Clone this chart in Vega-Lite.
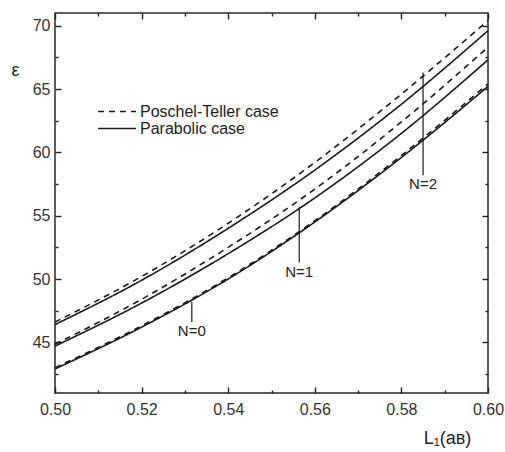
{
  "$schema": "https://vega.github.io/schema/vega-lite/v6.json",
  "width": 433,
  "height": 380,
  "autosize": {"type": "none"},
  "padding": {"left": 55, "top": 13, "right": 17, "bottom": 59},
  "background": "white",
  "config": {
    "view": {"stroke": "#2a2a2a", "strokeWidth": 1.5},
    "font": "Liberation Sans",
    "axis": {
      "labelFont": "Liberation Sans",
      "labelFontSize": 16,
      "labelColor": "#333333",
      "ticks": true,
      "tickColor": "#222222",
      "tickWidth": 1.4,
      "domain": false,
      "grid": false,
      "titleFont": "Liberation Sans",
      "titleFontWeight": "normal",
      "titleColor": "#222222",
      "labelFlush": false,
      "labelOverlap": false
    },
    "legend": {
      "labelFont": "Liberation Sans"
    }
  },
  "datasets": {
    "curves": [
      {"L": 0.50, "E": 42.9, "N": "N=0", "case": "Parabolic case"},
      {"L": 0.52, "E": 46.2, "N": "N=0", "case": "Parabolic case"},
      {"L": 0.54, "E": 50.0, "N": "N=0", "case": "Parabolic case"},
      {"L": 0.56, "E": 54.5, "N": "N=0", "case": "Parabolic case"},
      {"L": 0.58, "E": 59.6, "N": "N=0", "case": "Parabolic case"},
      {"L": 0.60, "E": 65.2, "N": "N=0", "case": "Parabolic case"},
      {"L": 0.50, "E": 43.0, "N": "N=0", "case": "Poschel-Teller case"},
      {"L": 0.52, "E": 46.3, "N": "N=0", "case": "Poschel-Teller case"},
      {"L": 0.54, "E": 50.1, "N": "N=0", "case": "Poschel-Teller case"},
      {"L": 0.56, "E": 54.6, "N": "N=0", "case": "Poschel-Teller case"},
      {"L": 0.58, "E": 59.75, "N": "N=0", "case": "Poschel-Teller case"},
      {"L": 0.60, "E": 65.4, "N": "N=0", "case": "Poschel-Teller case"},
      {"L": 0.50, "E": 44.7, "N": "N=1", "case": "Parabolic case"},
      {"L": 0.52, "E": 48.1, "N": "N=1", "case": "Parabolic case"},
      {"L": 0.54, "E": 52.0, "N": "N=1", "case": "Parabolic case"},
      {"L": 0.56, "E": 56.4, "N": "N=1", "case": "Parabolic case"},
      {"L": 0.58, "E": 61.5, "N": "N=1", "case": "Parabolic case"},
      {"L": 0.60, "E": 67.3, "N": "N=1", "case": "Parabolic case"},
      {"L": 0.50, "E": 44.85, "N": "N=1", "case": "Poschel-Teller case"},
      {"L": 0.52, "E": 48.4, "N": "N=1", "case": "Poschel-Teller case"},
      {"L": 0.54, "E": 52.5, "N": "N=1", "case": "Poschel-Teller case"},
      {"L": 0.56, "E": 57.1, "N": "N=1", "case": "Poschel-Teller case"},
      {"L": 0.58, "E": 62.4, "N": "N=1", "case": "Poschel-Teller case"},
      {"L": 0.60, "E": 68.3, "N": "N=1", "case": "Poschel-Teller case"},
      {"L": 0.50, "E": 46.4, "N": "N=2", "case": "Parabolic case"},
      {"L": 0.52, "E": 49.9, "N": "N=2", "case": "Parabolic case"},
      {"L": 0.54, "E": 54.0, "N": "N=2", "case": "Parabolic case"},
      {"L": 0.56, "E": 58.6, "N": "N=2", "case": "Parabolic case"},
      {"L": 0.58, "E": 63.8, "N": "N=2", "case": "Parabolic case"},
      {"L": 0.60, "E": 69.6, "N": "N=2", "case": "Parabolic case"},
      {"L": 0.50, "E": 46.6, "N": "N=2", "case": "Poschel-Teller case"},
      {"L": 0.52, "E": 50.2, "N": "N=2", "case": "Poschel-Teller case"},
      {"L": 0.54, "E": 54.4, "N": "N=2", "case": "Poschel-Teller case"},
      {"L": 0.56, "E": 59.2, "N": "N=2", "case": "Poschel-Teller case"},
      {"L": 0.58, "E": 64.6, "N": "N=2", "case": "Poschel-Teller case"},
      {"L": 0.60, "E": 70.4, "N": "N=2", "case": "Poschel-Teller case"}
    ],
    "labels": [
      {"L": 0.585, "E": 66.3, "E2": 58.2, "label": "N=2"},
      {"L": 0.5564, "E": 55.7, "E2": 51.3, "label": "N=1"},
      {"L": 0.5316, "E": 48.2, "E2": 46.6, "label": "N=0"}
    ]
  },
  "layer": [
    {
      "data": {"name": "curves"},
      "transform": [{"filter": "datum.case === 'Parabolic case'"}],
      "mark": {"type": "line", "interpolate": "monotone", "strokeWidth": 1.6, "color": "#1a1a1a"},
      "encoding": {
        "x": {
          "field": "L",
          "type": "quantitative",
          "scale": {"domain": [0.5, 0.6], "nice": false, "zero": false},
          "axis": {
            "orient": "bottom",
            "values": [0.5, 0.52, 0.54, 0.56, 0.58, 0.6],
            "offset": -6,
            "tickSize": 6,
            "format": ".2f",
            "labelPadding": 8,
            "title": "L₁(aʙ)",
            "titleX": 392,
            "titleY": 51,
            "titleAlign": "center",
            "titleBaseline": "middle",
            "titleFontSize": 18
          }
        },
        "y": {
          "field": "E",
          "type": "quantitative",
          "scale": {"domain": [41, 71], "nice": false, "zero": false},
          "axis": {
            "orient": "left",
            "values": [45, 50, 55, 60, 65, 70],
            "offset": -6,
            "tickSize": 6,
            "format": "d",
            "labelPadding": 5,
            "title": "ε",
            "titleAngle": 0,
            "titleX": -46,
            "titleY": 57,
            "titleAlign": "center",
            "titleBaseline": "middle",
            "titleFontSize": 18
          }
        },
        "strokeDash": {
          "field": "case",
          "type": "nominal",
          "scale": {"domain": ["Poschel-Teller case", "Parabolic case"], "range": [[6, 5], [1, 0]]},
          "legend": {
            "orient": "none",
            "legendX": 42,
            "legendY": 93,
            "title": null,
            "padding": 0,
            "symbolSize": 1444,
            "symbolStrokeWidth": 1.6,
            "symbolStrokeColor": "#1a1a1a",
            "labelFontSize": 16,
            "labelColor": "#222222",
            "labelOffset": 3,
            "clipHeight": 11,
            "rowPadding": 0
          }
        },
        "detail": {"field": "N"}
      }
    },
    {
      "data": {"name": "curves"},
      "transform": [{"filter": "datum.case === 'Poschel-Teller case'"}],
      "mark": {"type": "line", "interpolate": "monotone", "strokeWidth": 1.6, "color": "#1a1a1a"},
      "encoding": {
        "x": {
          "field": "L",
          "type": "quantitative",
          "axis": {
            "orient": "bottom",
            "values": [0.51, 0.53, 0.55, 0.57, 0.59],
            "offset": -3,
            "tickSize": 3,
            "labels": false,
            "title": null
          }
        },
        "y": {
          "field": "E",
          "type": "quantitative",
          "axis": {
            "orient": "left",
            "values": [42.5, 47.5, 52.5, 57.5, 62.5, 67.5],
            "offset": -3,
            "tickSize": 3,
            "labels": false,
            "title": null
          }
        },
        "strokeDash": {"field": "case", "type": "nominal"},
        "detail": {"field": "N"}
      }
    },
    {
      "data": {"name": "labels"},
      "mark": {"type": "rule", "color": "#1a1a1a", "strokeWidth": 1.2},
      "encoding": {
        "x": {
          "field": "L",
          "type": "quantitative",
          "axis": {
            "orient": "top",
            "values": [0.5, 0.52, 0.54, 0.56, 0.58, 0.6],
            "offset": -6,
            "tickSize": 6,
            "labels": false,
            "title": null
          }
        },
        "y": {
          "field": "E",
          "type": "quantitative",
          "axis": {
            "orient": "right",
            "values": [45, 50, 55, 60, 65, 70],
            "offset": -6,
            "tickSize": 6,
            "labels": false,
            "title": null
          }
        },
        "y2": {"field": "E2"}
      }
    },
    {
      "data": {"name": "labels"},
      "mark": {"type": "text", "baseline": "top", "align": "center", "dy": 2, "fontSize": 15, "color": "#222222", "font": "Liberation Sans"},
      "encoding": {
        "x": {
          "field": "L",
          "type": "quantitative",
          "axis": {
            "orient": "top",
            "values": [0.51, 0.53, 0.55, 0.57, 0.59],
            "offset": -3,
            "tickSize": 3,
            "labels": false,
            "title": null
          }
        },
        "y": {
          "field": "E2",
          "type": "quantitative",
          "axis": {
            "orient": "right",
            "values": [42.5, 47.5, 52.5, 57.5, 62.5, 67.5],
            "offset": -3,
            "tickSize": 3,
            "labels": false,
            "title": null
          }
        },
        "text": {"field": "label"}
      }
    }
  ],
  "resolve": {"axis": {"x": "independent", "y": "independent"}}
}
